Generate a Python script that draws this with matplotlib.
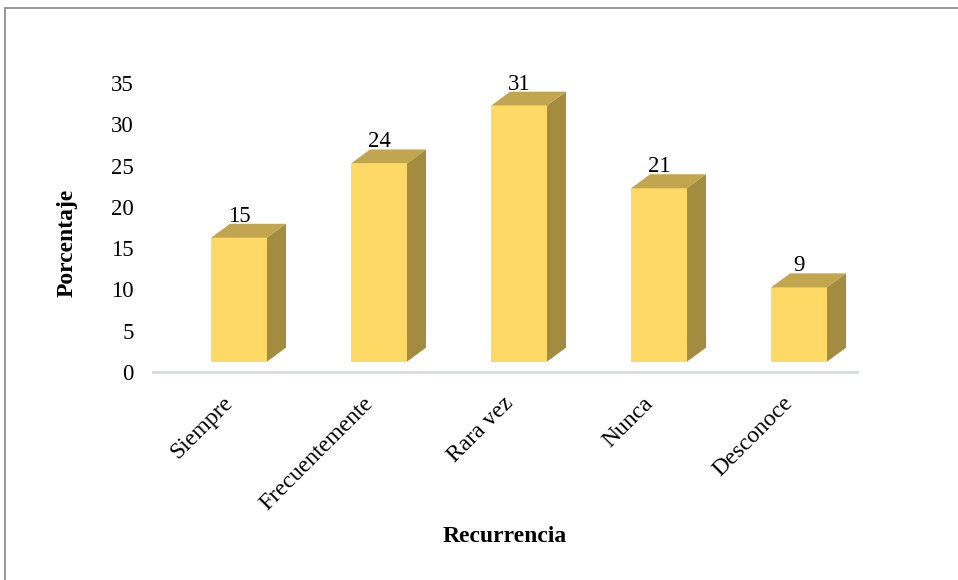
import matplotlib.pyplot as plt
from matplotlib.patches import Polygon, Rectangle

plt.rcParams['font.family'] = ['Liberation Serif', 'DejaVu Serif']

categorias = ["Siempre", "Frecuentemente", "Rara vez", "Nunca", "Desconoce"]
porcentajes = [15, 24, 31, 21, 9]
yticks = [0, 5, 10, 15, 20, 25, 30, 35]

# colores de las caras del prisma
c_frente = "#FFD966"
c_arriba = "#C2A64F"
c_lado = "#A38B40"

# geometria del efecto 3D (unidades de datos)
ancho = 0.4
prof_x = 0.136
prof_y = 1.7
base = 1.25

fig = plt.figure(figsize=(9.58, 5.8), dpi=100)
ax = fig.add_axes([153 / 958, 208 / 580, 704 / 958, 289 / 580])
ax.set_xlim(-0.614, 4.414)
ax.set_ylim(0, 35)

for i, v in enumerate(porcentajes):
    x0, x1 = i - ancho / 2, i + ancho / 2
    y0, y1 = base, base + v
    frente = Polygon([(x0, y0), (x1, y0), (x1, y1), (x0, y1)], closed=True,
                     facecolor=c_frente, edgecolor="none", zorder=3, clip_on=False)
    arriba = Polygon([(x0, y1), (x1, y1), (x1 + prof_x, y1 + prof_y),
                      (x0 + prof_x, y1 + prof_y)], closed=True,
                     facecolor=c_arriba, edgecolor="none", zorder=3, clip_on=False)
    lado = Polygon([(x1, y0), (x1 + prof_x, y0 + prof_y), (x1 + prof_x, y1 + prof_y),
                    (x1, y1)], closed=True,
                   facecolor=c_lado, edgecolor="none", zorder=3, clip_on=False)
    for p in (frente, arriba, lado):
        ax.add_patch(p)
    ax.annotate(str(v), (i, y1 + prof_y), xytext=(0, 1.5), textcoords="offset points",
                ha="center", va="baseline", fontsize=16.5, zorder=4,
                annotation_clip=False)

# linea del piso
ax.axhline(0, color="#D6DCE5", lw=2, zorder=1, clip_on=False)

for s in ax.spines.values():
    s.set_visible(False)
ax.set_yticks(yticks)
ax.set_yticklabels([str(t) for t in yticks], fontsize=16.5)
ax.tick_params(axis="y", length=0, pad=14)
ax.set_xticks([])

for i, c in enumerate(categorias):
    ax.annotate(c, (i - 0.12, 0), xytext=(0, -15), textcoords="offset points",
                ha="right", va="top", rotation=45, rotation_mode="anchor",
                fontsize=17, annotation_clip=False)

fig.text(67 / 958, 1 - 243 / 580, "Porcentaje", rotation=90, ha="center", va="center",
         fontsize=17, fontweight="bold")
fig.text(505 / 958, 1 - 537 / 580, "Recurrencia", ha="center", va="center",
         fontsize=17, fontweight="bold")

# marco del grafico
fig.patches.append(Rectangle((5 / 958, -0.1), 1.1, 1 - 8 / 580 + 0.1,
                             transform=fig.transFigure, fill=False,
                             edgecolor="#858585", lw=1.2))

fig.savefig("out.png", dpi=100, facecolor="white")
